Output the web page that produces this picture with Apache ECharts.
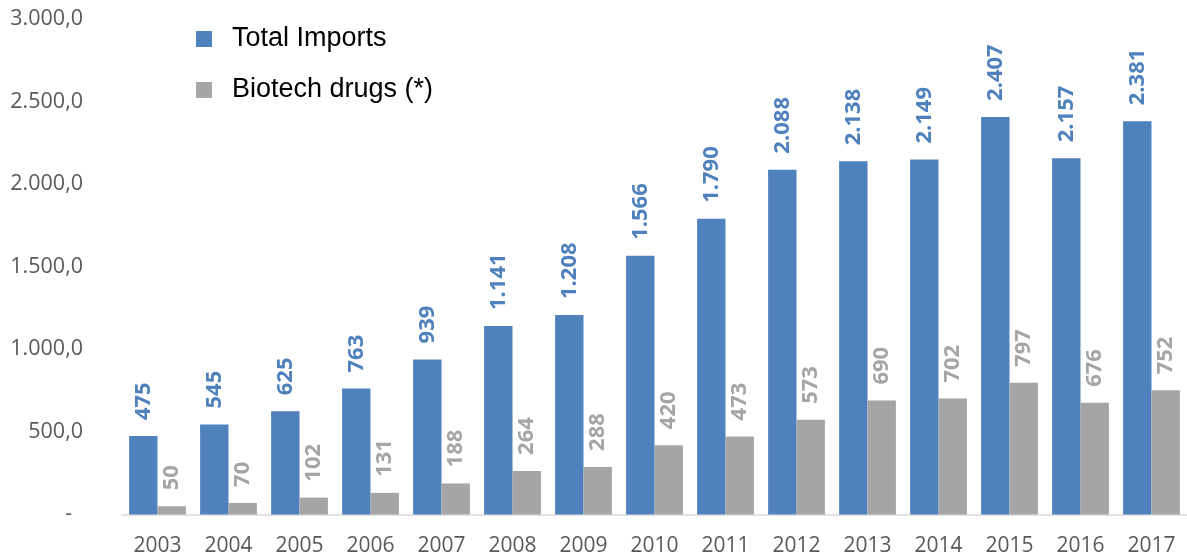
<!DOCTYPE html>
<html>
<head>
<meta charset="utf-8">
<script src="https://cdn.jsdelivr.net/npm/echarts@6/dist/echarts.min.js"></script>
<style>
  html, body { margin: 0; padding: 0; background: #fff; }
  #chart { width: 1187px; height: 558px; }
</style>
</head>
<body>
<div id="chart"></div>
<script>
// Imports by year (values in millions)
const years = ['2003','2004','2005','2006','2007','2008','2009','2010','2011','2012','2013','2014','2015','2016','2017'];
const totalImports = [475, 545, 625, 763, 939, 1141, 1208, 1566, 1790, 2088, 2138, 2149, 2407, 2157, 2381];
const biotechDrugs = [50, 70, 102, 131, 188, 264, 288, 420, 473, 573, 690, 702, 797, 676, 752];
const seriesNames = ['Total Imports', 'Biotech drugs (*)'];

const BLUE = '#4F81BD';
const GREY = '#A5A5A5';
const LABEL_FONT = '"Open Sans", sans-serif';

// 1234 -> "1.234"
function thousands(v) {
  return String(Math.round(v)).replace(/\B(?=(\d{3})+(?!\d))/g, '.');
}
// 2500 -> "2.500,0", 0 -> "-"
function axisFmt(v) {
  if (v === 0) return '{z|-}';
  return thousands(v) + ',0';
}

function barLabel(color) {
  return {
    show: true,
    position: 'top',
    rotate: 90,
    align: 'left',
    verticalAlign: 'middle',
    distance: 16,
    color: color,
    fontFamily: LABEL_FONT,
    fontWeight: 'bold',
    fontSize: 22,
    formatter: p => thousands(p.value)
  };
}

const chart = echarts.init(document.getElementById('chart'), null, { renderer: 'canvas' });
chart.setOption({
  animation: false,
  color: [BLUE, GREY],
  grid: { left: 122, right: -6, top: 19, bottom: 43.5, containLabel: false },
  legend: {
    orient: 'vertical',
    left: 196,
    top: 24,
    padding: 0,
    itemWidth: 16,
    itemHeight: 16,
    itemGap: 21,
    icon: 'rect',
    textStyle: {
      fontFamily: '"Liberation Sans", Arial, sans-serif',
      fontSize: 27,
      color: '#000',
      padding: [0, 0, 0, 15],
      lineHeight: 30
    },
    data: seriesNames
  },
  xAxis: {
    type: 'category',
    data: years,
    axisLine: { lineStyle: { color: '#D9D9D9', width: 1.5 } },
    axisTick: { show: false },
    axisLabel: { color: '#595959', fontFamily: LABEL_FONT, fontSize: 21, margin: 21 }
  },
  yAxis: {
    type: 'value',
    min: 0,
    max: 3000,
    interval: 500,
    axisLine: { show: false },
    axisTick: { show: false },
    splitLine: { show: false },
    axisLabel: {
      color: '#595959',
      fontFamily: LABEL_FONT,
      fontSize: 21.5,
      margin: 39,
      formatter: axisFmt,
      rich: { z: { color: '#595959', fontFamily: LABEL_FONT, fontSize: 21, padding: [0, 11, 0, 0] } }
    }
  },
  series: [
    {
      name: seriesNames[0],
      type: 'bar',
      data: totalImports,
      barWidth: '40%',
      barGap: '0%',
      itemStyle: { color: BLUE },
      label: barLabel(BLUE)
    },
    {
      name: seriesNames[1],
      type: 'bar',
      data: biotechDrugs,
      barWidth: '40%',
      barGap: '0%',
      itemStyle: { color: GREY },
      label: barLabel(GREY)
    }
  ]
});
</script>
</body>
</html>
